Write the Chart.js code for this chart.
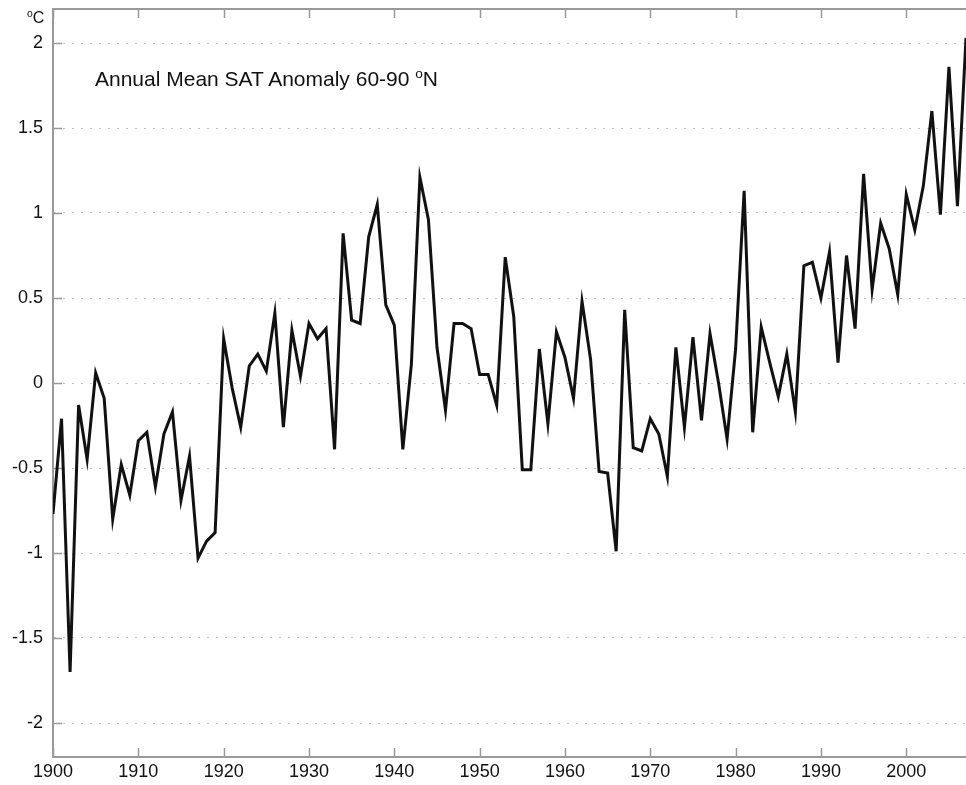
<!DOCTYPE html>
<html>
<head>
<meta charset="utf-8">
<script src="https://cdn.jsdelivr.net/npm/chart.js@4.4.1/dist/chart.umd.min.js"></script>
<style>
    body { margin: 0; background: #fff; }
    #wrap { position: relative; width: 966px; height: 785px; }
    .txt { position: absolute; font-family: 'Liberation Sans', Arial, Helvetica, sans-serif; color: #111; white-space: nowrap; }
    #title { left: 95px; top: 66px; font-size: 21px; }
    #unit { left: 27px; top: 8px; font-size: 16px; }
    sup { font-size: 65%; vertical-align: 0.55em; }
</style>
</head>
<body>
<div id="wrap">
    <canvas id="satChart" width="966" height="785"></canvas>
    <div class="txt" id="title">Annual Mean SAT Anomaly 60-90 <sup>o</sup>N</div>
    <div class="txt" id="unit"><sup>o</sup>C</div>
</div>
<script>
const firstYear = 1900;
const lastYear = 2007;
const years = Array.from({ length: lastYear - firstYear + 1 }, (_, i) => firstYear + i);

// annual mean surface air temperature anomaly, 60-90N (degC)
const anomaly = [
    -0.77, -0.21, -1.70, -0.13, -0.45, 0.06, -0.09, -0.80, -0.48, -0.66,   // 1900s
    -0.34, -0.29, -0.61, -0.30, -0.17, -0.69, -0.43, -1.03, -0.93, -0.88,  // 1910s
    0.26, -0.03, -0.26, 0.10, 0.17, 0.07, 0.41, -0.26, 0.31, 0.04,         // 1920s
    0.35, 0.26, 0.32, -0.39, 0.88, 0.37, 0.35, 0.86, 1.05, 0.46,           // 1930s
    0.34, -0.39, 0.11, 1.21, 0.96, 0.21, -0.16, 0.35, 0.35, 0.32,          // 1940s
    0.05, 0.05, -0.13, 0.74, 0.39, -0.51, -0.51, 0.20, -0.24, 0.30,        // 1950s
    0.15, -0.09, 0.48, 0.14, -0.52, -0.53, -0.99, 0.43, -0.38, -0.40,      // 1960s
    -0.21, -0.30, -0.55, 0.21, -0.26, 0.27, -0.22, 0.29, 0.00, -0.33,      // 1970s
    0.20, 1.13, -0.29, 0.33, 0.12, -0.08, 0.17, -0.17, 0.69, 0.71,         // 1980s
    0.50, 0.77, 0.12, 0.75, 0.32, 1.23, 0.55, 0.94, 0.79, 0.52,            // 1990s
    1.11, 0.90, 1.16, 1.60, 0.99, 1.86, 1.04, 2.03                         // 2000s
];

const yMin = -2.2;
const yMax = 2.2;
const yStep = 0.5;
const xStep = 10;

const axisColor = '#9a9a9a';
const labelFont = { family: "'Liberation Sans', Arial, Helvetica, sans-serif", size: 18 };

// MATLAB style box: top edge plus inward ticks on every side
const framePlugin = {
    id: 'frame',
    beforeDatasetsDraw(chart) {
        const { ctx, chartArea: a, scales: { x, y } } = chart;
        ctx.save();
        ctx.strokeStyle = axisColor;
        ctx.lineWidth = 2;
        ctx.beginPath();
        ctx.moveTo(a.left, a.top);
        ctx.lineTo(a.right + 2, a.top);
        ctx.stroke();
        ctx.lineWidth = 1.5;
        ctx.beginPath();
        x.ticks.forEach(t => {
            const px = Math.round(x.getPixelForValue(t.value)) + 0.5;
            ctx.moveTo(px, a.bottom);
            ctx.lineTo(px, a.bottom - 9);
            ctx.moveTo(px, a.top);
            ctx.lineTo(px, a.top + 9);
        });
        y.ticks.forEach(t => {
            const py = Math.round(y.getPixelForValue(t.value)) + 0.5;
            ctx.moveTo(a.left, py);
            ctx.lineTo(a.left + 9, py);
        });
        ctx.stroke();
        ctx.restore();
    }
};

const ctx = document.getElementById('satChart').getContext('2d');
const chart = new Chart(ctx, {
    type: 'line',
    data: {
        datasets: [{
            data: years.map((yr, i) => ({ x: yr, y: anomaly[i] })),
            borderColor: '#111',
            borderWidth: 3,
            pointRadius: 0,
            tension: 0,
            fill: false
        }]
    },
    options: {
        responsive: false,
        animation: false,
        layout: { padding: { top: 9, right: 0, left: 0, bottom: 0 } },
        plugins: {
            legend: { display: false },
            title: { display: false },
            tooltip: { enabled: false }
        },
        scales: {
            x: {
                type: 'linear',
                min: firstYear,
                max: lastYear,
                afterFit: (scale) => {
                    scale.height = 28;
                    scale.paddingLeft = 0;
                    scale.paddingRight = 0;
                },
                afterBuildTicks: (scale) => {
                    scale.ticks = scale.ticks.filter(t => t.value % xStep === 0);
                },
                ticks: {
                    stepSize: xStep,
                    includeBounds: false,
                    autoSkip: false,
                    maxRotation: 0,
                    padding: 4,
                    color: '#111',
                    font: labelFont,
                    callback: (v) => String(v)
                },
                grid: { display: false, drawTicks: false },
                border: { display: true, color: axisColor, width: 2 }
            },
            y: {
                type: 'linear',
                min: yMin,
                max: yMax,
                afterFit: (scale) => {
                    scale.width = 53;
                    scale.paddingTop = 0;
                    scale.paddingBottom = 0;
                },
                afterBuildTicks: (scale) => {
                    scale.ticks = scale.ticks.filter(t => Math.abs(t.value / yStep - Math.round(t.value / yStep)) < 1e-6);
                },
                ticks: {
                    stepSize: yStep,
                    includeBounds: false,
                    padding: 10,
                    color: '#111',
                    font: labelFont,
                    callback: (v) => String(Math.round(v * 10) / 10)
                },
                grid: {
                    display: true,
                    drawTicks: false,
                    color: '#c4c4c4',
                    lineWidth: 1
                },
                border: { display: true, color: axisColor, width: 2, dash: [2, 7] }
            }
        }
    },
    plugins: [framePlugin]
});
</script>
</body>
</html>
